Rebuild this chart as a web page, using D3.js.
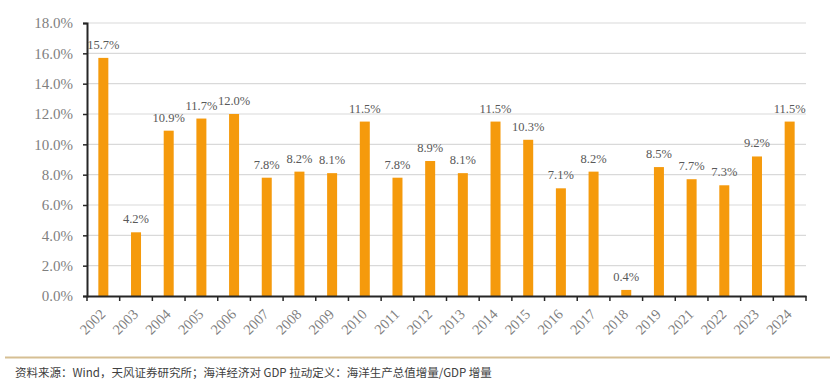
<!DOCTYPE html>
<html>
<head>
<meta charset="utf-8">
<script src="https://cdn.jsdelivr.net/npm/d3@7"></script>
<style>
  body { margin: 0; background: #fff; }
</style>
</head>
<body>
<svg id="canvas" width="830" height="390"></svg>
<script>
let years = ['2002', '2003', '2004', '2005', '2006', '2007', '2008', '2009', '2010', '2011', '2012',
             '2013', '2014', '2015', '2016', '2017', '2018', '2019', '2021', '2022', '2023', '2024']
let pull = [15.7, 4.2, 10.9, 11.7, 12.0, 7.8, 8.2, 8.1, 11.5, 7.8, 8.9,
            8.1, 11.5, 10.3, 7.1, 8.2, 0.4, 8.5, 7.7, 7.3, 9.2, 11.5]
let yTicks = [0, 2, 4, 6, 8, 10, 12, 14, 16, 18]
let source = '资料来源：Wind，天风证券研究所；海洋经济对 GDP 拉动定义：海洋生产总值增量/GDP 增量'

let canvas = d3.select('#canvas')
let serif = '"Liberation Serif", "Times New Roman", serif'

let x = d3.scaleBand().domain(years).range([87, 806])
let y = d3.scaleLinear().domain([0, 18]).range([296, 23])

// gridlines
canvas.append('g')
    .selectAll('line')
    .data(yTicks.slice(1))
    .enter()
    .append('line')
    .attr('x1', 87).attr('x2', 806)
    .attr('y1', d => y(d)).attr('y2', d => y(d))
    .attr('stroke', '#d9d9d9')
    .attr('stroke-width', 1.2)

// bars
canvas.append('g')
    .selectAll('rect')
    .data(pull)
    .enter()
    .append('rect')
    .attr('x', (d, i) => x(years[i]) + x.bandwidth() / 2 - 5)
    .attr('width', 10)
    .attr('y', d => y(d))
    .attr('height', d => y(0) - y(d))
    .attr('fill', '#f59a0c')

// data labels
canvas.append('g')
    .selectAll('text')
    .data(pull)
    .enter()
    .append('text')
    .attr('x', (d, i) => x(years[i]) + x.bandwidth() / 2)
    .attr('y', d => y(d) - 9)
    .attr('text-anchor', 'middle')
    .attr('font-family', serif)
    .attr('font-size', 12.5)
    .attr('fill', '#595959')
    .text(d => d.toFixed(1) + '%')

// y axis
let yAxis = canvas.append('g')
    .attr('transform', 'translate(87,0)')
    .call(d3.axisLeft(y).tickValues(yTicks).tickFormat(d => d.toFixed(1) + '%').tickSize(4).tickPadding(10))
yAxis.select('.domain').attr('stroke', '#262626').attr('stroke-width', 2)
yAxis.selectAll('.tick line').attr('stroke', '#262626').attr('stroke-width', 1.5)
yAxis.selectAll('text')
    .attr('font-family', serif)
    .attr('font-size', 15)
    .attr('fill', '#7f7f7f')

// x axis
let xAxis = canvas.append('g')
    .attr('transform', 'translate(0,296)')
    .call(d3.axisBottom(x).tickSize(0).tickSizeOuter(0))
xAxis.select('.domain').attr('stroke', '#262626').attr('stroke-width', 2)
xAxis.selectAll('.tick line').remove()
xAxis.selectAll('.tick text')
    .attr('font-family', serif)
    .attr('font-size', 14.5)
    .attr('fill', '#7f7f7f')
    .attr('text-anchor', 'end')
    .attr('dy', 0)
    .attr('y', 0)
    .attr('transform', 'translate(3,19) rotate(-45)')

// x tick marks at band edges
canvas.append('g')
    .selectAll('line')
    .data(years.concat(['end']))
    .enter()
    .append('line')
    .attr('x1', (d, i) => i < years.length ? x(d) : x.range()[1])
    .attr('x2', (d, i) => i < years.length ? x(d) : x.range()[1])
    .attr('y1', 296).attr('y2', 301)
    .attr('stroke', '#262626')
    .attr('stroke-width', 1.5)

// source line
canvas.append('line')
    .attr('x1', 5).attr('x2', 830)
    .attr('y1', 357.5).attr('y2', 357.5)
    .attr('stroke', '#d6bf93')
    .attr('stroke-width', 2)

canvas.append('text')
    .attr('x', 15)
    .attr('y', 377)
    .attr('font-family', '"Noto Sans CJK SC", sans-serif')
    .attr('font-size', 11.5)
    .attr('fill', '#404040')
    .text(source)
</script>
</body>
</html>
